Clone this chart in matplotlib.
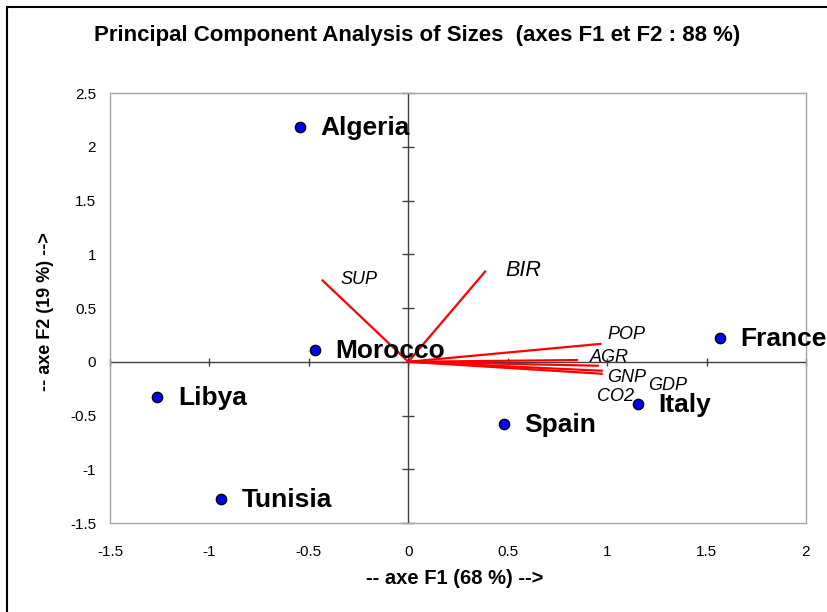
import matplotlib
matplotlib.use("Agg")
import matplotlib.pyplot as plt
from matplotlib.patches import Rectangle

plt.rcParams['font.family'] = ['Liberation Sans', 'DejaVu Sans']

# Observations (countries)
countries = ["Algeria", "Morocco", "Libya", "Tunisia", "Spain", "Italy", "France"]
f1_obs = [-0.545, -0.47, -1.264, -0.943, 0.48, 1.154, 1.566]
f2_obs = [2.186, 0.11, -0.326, -1.274, -0.577, -0.39, 0.223]

# Variables (vectors)
variables = ["SUP", "BIR", "POP", "AGR", "GNP", "GDP", "CO2"]
f1_var = [-0.435, 0.39, 0.971, 0.854, 0.958, 0.978, 0.978]
f2_var = [0.763, 0.847, 0.167, 0.016, -0.037, -0.084, -0.112]

xticks = [-1.5, -1, -0.5, 0, 0.5, 1, 1.5, 2]
yticks = [-1.5, -1, -0.5, 0, 0.5, 1, 1.5, 2, 2.5]

def fmt(v):
    return ("%g" % v)

fig = plt.figure(figsize=(8.28, 6.12), dpi=100)
ax = fig.add_axes([0.1329, 0.1454, 0.9734 - 0.1329, 0.848 - 0.1454])

# outer border
fig.patches.append(Rectangle((7/828, -0.05), 1.2, (612-7)/612 + 0.05, transform=fig.transFigure,
                             fill=False, edgecolor='black', linewidth=1.5))

ax.set_xlim(-1.5, 2)
ax.set_ylim(-1.5, 2.5)
for s in ax.spines.values():
    s.set_edgecolor('#a6a6a6')
    s.set_linewidth(1.0)

ax.set_xticks(xticks)
ax.set_yticks(yticks)
ax.set_xticklabels([fmt(v) for v in xticks], fontsize=11)
ax.set_yticklabels([fmt(v) for v in yticks], fontsize=11)
ax.tick_params(axis='both', length=0)
ax.tick_params(axis='x', pad=16)
ax.tick_params(axis='y', pad=10)

# zero axes with cross ticks
ax.axhline(0, color='#404040', linewidth=1.0, zorder=1)
ax.axvline(0, color='#404040', linewidth=1.0, zorder=1)
ax.plot(xticks, [0]*len(xticks), linestyle='none', marker='|', markersize=5.5,
        color='#404040', markeredgewidth=1.0, zorder=1, clip_on=False)
ax.plot([0]*len(yticks), yticks, linestyle='none', marker='_', markersize=8,
        color='#404040', markeredgewidth=1.0, zorder=1, clip_on=False)

# vectors
for x, y in zip(f1_var, f2_var):
    ax.plot([0, x], [0, y], color='#ff0000', linewidth=1.6, zorder=2, solid_capstyle='butt')

var_offsets = {"SUP": (0.096, 0.0), "BIR": (0.096, 0.0), "POP": (0.03, 0.084),
               "AGR": (0.06, 0.028), "GNP": (0.04, -0.11), "GDP": (0.226, -0.14),
               "CO2": (-0.03, -0.21)}
for name, x, y in zip(variables, f1_var, f2_var):
    dx, dy = var_offsets[name]
    fs = 15.5 if name == "BIR" else 13
    ax.text(x + dx, y + dy, name, style='italic', fontsize=fs, ha='left', va='center', zorder=3)

# observations
ax.scatter(f1_obs, f2_obs, s=55, color='#0000ff', edgecolor='black', linewidth=1.0, zorder=4)
for name, x, y in zip(countries, f1_obs, f2_obs):
    ax.text(x + 0.105, y - 0.01, name, fontsize=19, fontweight='bold', ha='left', va='center', zorder=5)

fig.text(417/828, 1 - 36/612, "Principal Component Analysis of Sizes  (axes F1 et F2 : 88 %)",
         fontsize=16, fontweight='bold', ha='center', va='center')
fig.text(455/828, 1 - 578/612, "-- axe F1 (68 %) -->", fontsize=14.5, fontweight='bold',
         ha='center', va='center')
fig.text(46/828, 1 - 312/612, "-- axe F2 (19 %) -->", fontsize=13, fontweight='bold',
         ha='center', va='center', rotation=90)

fig.savefig("out.png", dpi=100)
